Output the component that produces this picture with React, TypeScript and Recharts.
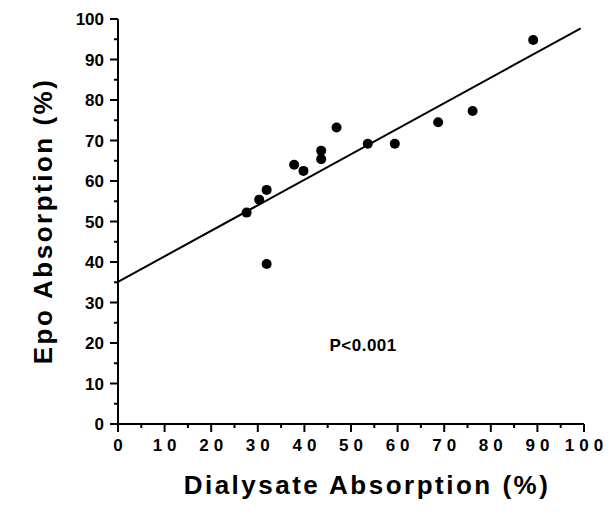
import React from 'react';
import { ScatterChart, Scatter, XAxis, YAxis, ReferenceLine, ReferenceDot } from 'recharts';

// Dialysate vs Epo absorption (%)
const dialysate = [27.6, 30.3, 31.9, 31.9, 37.8, 39.8, 43.6, 43.6, 46.9, 53.6, 59.4, 68.7, 76.1, 89.1];
const epo = [52.2, 55.4, 57.8, 39.5, 64.0, 62.5, 67.5, 65.4, 73.2, 69.2, 69.2, 74.5, 77.3, 94.8];

// regression line end points
const fitX = [0, 99.3];
const fitY = [35.1, 97.7];

const allTicks = [0, 5, 10, 15, 20, 25, 30, 35, 40, 45, 50, 55, 60, 65, 70, 75, 80, 85, 90, 95, 100];

const pLabel = { x: 52.6, y: 19.5, text: 'P<0.001' };

const FONT = '"Liberation Sans", Arial, Helvetica, sans-serif';

const points = dialysate.map((d, i) => ({ x: d, y: epo[i] }));

const XTick = (props: any) => {
    const { x, y, payload } = props;
    const major = payload.value % 10 === 0;
    return (
        <g>
            <line x1={x} y1={y} x2={x} y2={y + (major ? 8 : 4)} stroke="#000" strokeWidth={2} />
            {major && (
                <text
                    x={x + 2.5}
                    y={y + 27}
                    textAnchor="middle"
                    fontFamily={FONT}
                    fontWeight="bold"
                    fontSize={17}
                    letterSpacing={5}
                    fill="#000"
                >
                    {payload.value}
                </text>
            )}
        </g>
    );
};

const YTick = (props: any) => {
    const { x, y, payload } = props;
    const major = payload.value % 10 === 0;
    return (
        <g>
            <line x1={x} y1={y} x2={x - (major ? 8 : 4)} y2={y} stroke="#000" strokeWidth={2} />
            {major && (
                <text
                    x={x - 14}
                    y={y + 6}
                    textAnchor="end"
                    fontFamily={FONT}
                    fontWeight="bold"
                    fontSize={17}
                    fill="#000"
                >
                    {payload.value}
                </text>
            )}
        </g>
    );
};

const Dot = (props: any) => <circle cx={props.cx} cy={props.cy} r={5} fill="#000" />;

export default function App() {
    return (
        <div style={{ position: 'absolute', left: 0, top: 0, background: '#fff' }}>
            <ScatterChart width={612} height={516} margin={{ top: 19, right: 28, bottom: 0, left: 0 }}>
                <XAxis
                    type="number"
                    dataKey="x"
                    domain={[0, 100]}
                    ticks={allTicks}
                    interval={0}
                    height={92}
                    tickSize={0}
                    tickMargin={0}
                    tickLine={false}
                    axisLine={{ stroke: '#000', strokeWidth: 2 }}
                    tick={<XTick />}
                    label={{
                        content: () => (
                            <text
                                x={367}
                                y={494}
                                textAnchor="middle"
                                fontFamily={FONT}
                                fontWeight="bold"
                                fontSize={26}
                                letterSpacing={2.5}
                                fill="#000"
                            >
                                Dialysate Absorption (%)
                            </text>
                        ),
                    }}
                />
                <YAxis
                    type="number"
                    dataKey="y"
                    domain={[0, 100]}
                    ticks={allTicks}
                    interval={0}
                    width={118}
                    tickSize={0}
                    tickMargin={0}
                    tickLine={false}
                    axisLine={{ stroke: '#000', strokeWidth: 2 }}
                    tick={<YTick />}
                    label={{
                        content: () => (
                            <text
                                x={52}
                                y={221}
                                transform="rotate(-90 52 221)"
                                textAnchor="middle"
                                fontFamily={FONT}
                                fontWeight="bold"
                                fontSize={26}
                                letterSpacing={2.5}
                                fill="#000"
                            >
                                Epo Absorption (%)
                            </text>
                        ),
                    }}
                />
                <ReferenceLine
                    segment={[
                        { x: fitX[0], y: fitY[0] },
                        { x: fitX[1], y: fitY[1] },
                    ]}
                    stroke="#000"
                    strokeWidth={2}
                    ifOverflow="visible"
                />
                <Scatter data={points} fill="#000" shape={<Dot />} isAnimationActive={false} />
                <ReferenceDot
                    x={pLabel.x}
                    y={pLabel.y}
                    r={0}
                    fill="none"
                    stroke="none"
                    label={{
                        content: (p: any) => {
                            const vb = p.viewBox || {};
                            const cx = (vb.x ?? 0) + (vb.width ?? 0) / 2;
                            const cy = (vb.y ?? 0) + (vb.height ?? 0) / 2;
                            return (
                                <text
                                    x={cx}
                                    y={cy + 6}
                                    textAnchor="middle"
                                    fontFamily={FONT}
                                    fontWeight="bold"
                                    fontSize={17}
                                    letterSpacing={0.5}
                                    fill="#000"
                                >
                                    {pLabel.text}
                                </text>
                            );
                        },
                    }}
                />
            </ScatterChart>
        </div>
    );
}
